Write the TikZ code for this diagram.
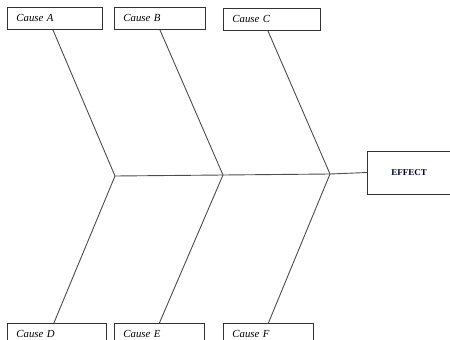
\documentclass[tikz,border=0pt]{standalone}
\usepackage{fontspec}
\setmainfont{Liberation Serif}
\usetikzlibrary{positioning}

\begin{document}
\begin{tikzpicture}[
    x=1pt, y=-1pt,
    cause/.style={draw=black!80, line width=0.8pt, rectangle, minimum height=22pt, text width=#1, align=left, inner xsep=9pt, inner ysep=0pt, font=\fontsize{10.8}{12}\selectfont\itshape},
    effectbox/.style={draw=black!80, line width=0.8pt, rectangle, minimum height=43pt, text width=60pt, align=left, inner xsep=24pt, font=\fontsize{9}{11}\selectfont\bfseries, text=black!85!blue},
    bone/.style={draw=black!70, line width=0.9pt}
]
    \useasboundingbox (0,0) rectangle (450,340);
    \clip (0,0) rectangle (450,340);

    % Causes above the spine
    \node[cause=77pt, anchor=north west] (causeA) at (7,7) {Cause A};
    \node[cause=73pt, anchor=north west] (causeB) at (114,7) {Cause B};
    \node[cause=79pt, anchor=north west] (causeC) at (223,8) {Cause C};

    % Causes below the spine
    \node[cause=81pt, anchor=north west] (causeD) at (7,323) {Cause D};
    \node[cause=72pt, anchor=north west] (causeE) at (114,323) {Cause E};
    \node[cause=72pt, anchor=north west] (causeF) at (223,323) {Cause F};

    % Effect
    \node[effectbox, anchor=west] (effect) at (367,172.5) {EFFECT};

    % Spine joints
    \coordinate (j1) at (115,176);
    \coordinate (j2) at (223,175);
    \coordinate (j3) at (330,174);

    \draw[bone] (j1) -- (j2) -- (j3) -- (effect.west);

    \draw[bone] (causeA.south) ++(-2,0) -- (j1);
    \draw[bone] (causeB.south) -- (j2);
    \draw[bone] (causeC.south) ++(-4,0) -- (j3);
    \draw[bone] (j1) -- ([xshift=-3pt]causeD.north);
    \draw[bone] (j2) -- (causeE.north);
    \draw[bone] (j3) -- (causeF.north);
\end{tikzpicture}
\end{document}
